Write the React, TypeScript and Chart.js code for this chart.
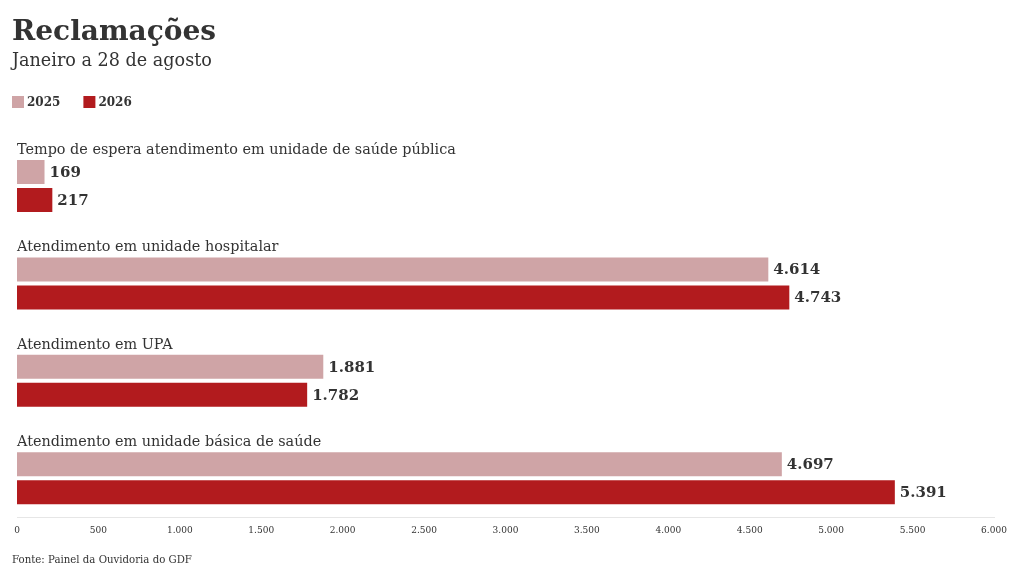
import React, { useEffect, useRef } from 'react';
import { Chart, registerables } from 'chart.js';

Chart.register(...registerables);

const titleText = 'Reclamações';
const subtitleText = 'Janeiro a 28 de agosto';
const sourceText = 'Fonte: Painel da Ouvidoria do GDF';

const categories = [
  'Tempo de espera atendimento em unidade de saúde pública',
  'Atendimento em unidade hospitalar',
  'Atendimento em UPA',
  'Atendimento em unidade básica de saúde',
];
const seriesLabels = ['2025', '2026'];
const values2025 = [169, 4614, 1881, 4697];
const values2026 = [217, 4743, 1782, 5391];
const xMin = 0;
const xMax = 6000;
const xStep = 500;

const colors = ['#cfa4a6', '#b21b1e'];
const FONT = "'DejaVu Serif', serif";
const TEXT = '#333333';

const fmt = (n: number) =>
  String(Math.round(n)).replace(/\B(?=(\d{3})+(?!\d))/g, '.');

const labelsPlugin = {
  id: 'barLabels',
  afterDatasetsDraw(chart: any) {
    const ctx = chart.ctx;
    const area = chart.chartArea;
    ctx.save();
    ctx.fillStyle = TEXT;
    ctx.textAlign = 'left';
    // category labels above each pair of bars
    ctx.font = `14.4px ${FONT}`;
    ctx.textBaseline = 'alphabetic';
    chart.getDatasetMeta(0).data.forEach((el: any, i: number) => {
      const { y, height } = el.getProps(['y', 'height'], true);
      ctx.fillText(categories[i], area.left, y - height / 2 - 6);
    });
    // value labels at bar ends
    ctx.font = `bold 15px ${FONT}`;
    ctx.textBaseline = 'middle';
    chart.data.datasets.forEach((ds: any, di: number) => {
      chart.getDatasetMeta(di).data.forEach((el: any, i: number) => {
        const { x, y } = el.getProps(['x', 'y'], true);
        ctx.fillText(fmt(ds.data[i].x), x + 5, y + 1);
      });
    });
    ctx.restore();
  },
};

const legendPlugin = {
  id: 'squareLegend',
  afterDraw(chart: any) {
    const ctx = chart.ctx;
    ctx.save();
    ctx.font = `bold 12px ${FONT}`;
    ctx.textBaseline = 'middle';
    ctx.textAlign = 'left';
    let x = 12;
    const y = 96;
    chart.data.datasets.forEach((ds: any) => {
      ctx.fillStyle = ds.backgroundColor;
      ctx.fillRect(x, y, 12, 12);
      ctx.fillStyle = TEXT;
      ctx.fillText(ds.label, x + 15, y + 6.5);
      x += 15 + ctx.measureText(ds.label).width + 23;
    });
    ctx.restore();
  },
};

const sourcePlugin = {
  id: 'sourceNote',
  afterDraw(chart: any) {
    const ctx = chart.ctx;
    ctx.save();
    ctx.font = `10.2px ${FONT}`;
    ctx.fillStyle = TEXT;
    ctx.textAlign = 'left';
    ctx.textBaseline = 'alphabetic';
    ctx.fillText(sourceText, 12, chart.height - 16);
    ctx.restore();
  },
};

export default function App() {
  const canvasRef = useRef<HTMLCanvasElement | null>(null);

  useEffect(() => {
    document.body.style.margin = '0';
    if (!canvasRef.current) return;
    const datasets = [values2025, values2026].map((vals, di) => ({
      label: seriesLabels[di],
      data: vals.map((v, i) => ({ x: v, y: i })),
      backgroundColor: colors[di],
      borderWidth: 0,
      categoryPercentage: 0.575,
      barPercentage: 0.857,
    }));
    const chart = new Chart(canvasRef.current, {
      type: 'bar',
      data: { datasets } as any,
      plugins: [labelsPlugin, legendPlugin, sourcePlugin],
      options: {
        animation: false,
        responsive: true,
        maintainAspectRatio: false,
        indexAxis: 'y',
        layout: { padding: { top: 16, left: 12, right: 26, bottom: 35.5 } },
        plugins: {
          legend: { display: false },
          tooltip: { enabled: false },
          title: {
            display: true,
            text: titleText,
            align: 'start',
            color: TEXT,
            font: { family: FONT, size: 28, weight: 'bold', lineHeight: 1.2 },
            padding: { top: 0, bottom: 0 },
          },
          subtitle: {
            display: true,
            text: subtitleText,
            align: 'start',
            color: TEXT,
            font: { family: FONT, size: 17.6, lineHeight: 1.2 },
            padding: { top: 1.5, bottom: 57.8 },
          },
        },
        scales: {
          x: {
            type: 'linear',
            position: 'bottom',
            min: xMin,
            max: xMax,
            ticks: {
              stepSize: xStep,
              padding: 7.5,
              color: TEXT,
              font: { family: FONT, size: 9 },
              maxRotation: 0,
              autoSkip: false,
              callback: (v: any) => fmt(Number(v)),
            },
            grid: { display: false, drawTicks: false },
            border: { display: true, color: '#e6e6e6', width: 1 },
          },
          y: {
            type: 'linear',
            reverse: true,
            offset: false,
            min: -0.575,
            max: 3.406,
            ticks: { display: false, stepSize: 1, includeBounds: false },
            grid: { display: false, drawTicks: false, offset: false },
            border: { display: false },
            afterFit: (s: any) => {
              s.width = 5;
            },
          },
        },
      } as any,
    });
    return () => chart.destroy();
  }, []);

  return (
    <div style={{ width: '1020px', height: '579px', position: 'relative', background: '#fff' }}>
      <canvas ref={canvasRef} style={{ display: 'block' }} />
    </div>
  );
}
